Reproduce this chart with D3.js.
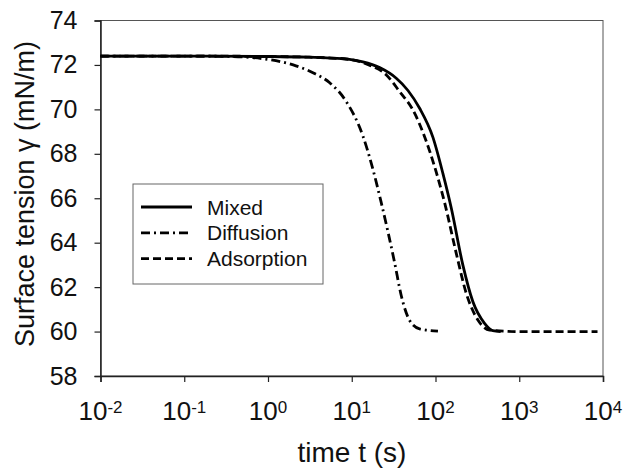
<!DOCTYPE html>
<html>
<head>
<meta charset="utf-8">
<script src="https://cdn.jsdelivr.net/npm/d3@7"></script>
<style>
  body { margin: 0; background: #fff; }
  svg { font-family: "Liberation Sans", Arial, sans-serif; }
</style>
</head>
<body>
<div id="chart"></div>
<script>
// time (s) and surface tension (mN/m)
var mixedT = [0.01, 0.1, 1, 3, 5, 9.4, 13.6, 21.5, 34, 46.9, 64.6, 93, 122.5, 154.5, 212, 279, 385, 484, 600];
var mixedG = [72.4, 72.4, 72.38, 72.35, 72.32, 72.25, 72.14, 71.88, 71.4, 70.85, 70.05, 68.75, 67.12, 65.55, 63.0, 61.35, 60.37, 60.04, 60.0];

var diffT = [0.01, 0.1, 0.35, 1, 2, 3.44, 5.45, 8.6, 13.6, 17.9, 22.5, 32.5, 39.1, 49.1, 64.6, 107];
var diffG = [72.4, 72.4, 72.38, 72.25, 72.0, 71.65, 71.2, 70.35, 68.8, 67.3, 65.8, 63.1, 61.6, 60.5, 60.12, 60.02];

var adsT = [0.01, 0.1, 1, 3, 5, 9.4, 16, 25.9, 37.3, 53.8, 74.1, 97.6, 128.5, 177, 233, 321, 442, 1000, 8600];
var adsG = [72.4, 72.4, 72.38, 72.35, 72.32, 72.25, 72.0, 71.55, 70.8, 69.97, 68.77, 67.42, 65.8, 63.52, 61.72, 60.52, 60.07, 60.0, 60.0];

var seriesNames = ["Mixed", "Diffusion", "Adsorption"];
var yTicks = [58, 60, 62, 64, 66, 68, 70, 72, 74];
var xTickExp = [-2, -1, 0, 1, 2, 3, 4];

var width = 627, height = 469;
var margin = {top: 20.5, right: 24, bottom: 93, left: 100.5};

var svg = d3.select("#chart").append("svg")
    .attr("width", width)
    .attr("height", height);

var x = d3.scaleLog()
    .domain([1e-2, 1e4])
    .range([margin.left, width - margin.right]);

var y = d3.scaleLinear()
    .domain([58, 74])
    .range([height - margin.bottom, margin.top]);

// frame (top and right thin)
svg.append("rect")
    .attr("x", x(1e-2))
    .attr("y", y(74))
    .attr("width", x(1e4) - x(1e-2))
    .attr("height", y(58) - y(74))
    .attr("fill", "none")
    .attr("stroke", "#555")
    .attr("stroke-width", 1);

// y axis
var yAxis = svg.append("g")
    .attr("transform", "translate(" + x(1e-2) + ",0)")
    .call(d3.axisLeft(y).tickValues(yTicks).tickSize(6).tickPadding(17).tickFormat(d3.format("d")));
yAxis.select(".domain").attr("stroke", "#222").attr("stroke-width", 1.5);
yAxis.selectAll(".tick line").attr("stroke", "#222").attr("stroke-width", 1.2);
yAxis.selectAll("text")
    .attr("font-size", 25)
    .attr("fill", "#111")
    .attr("font-family", "Liberation Sans, Arial, sans-serif");

// x axis
var xAxis = svg.append("g")
    .attr("transform", "translate(0," + y(58) + ")")
    .call(d3.axisBottom(x).tickValues(xTickExp.map(function(e) { return Math.pow(10, e); })).tickSize(6).tickFormat(""));
xAxis.select(".domain").attr("stroke", "#222").attr("stroke-width", 1.5);
xAxis.selectAll(".tick line").attr("stroke", "#222").attr("stroke-width", 1.2);

// x tick labels with superscripts
var xLab = svg.append("g").selectAll("text")
    .data(xTickExp)
    .enter()
    .append("text")
    .attr("x", function(d) { return x(Math.pow(10, d)); })
    .attr("y", y(58) + 44)
    .attr("text-anchor", "middle")
    .attr("font-size", 26)
    .attr("fill", "#111");
xLab.append("tspan").text("10");
xLab.append("tspan")
    .attr("font-size", 17)
    .attr("dy", -7)
    .text(function(d) { return d < 0 ? "-" + Math.abs(d) : d; });

// axis titles
svg.append("text")
    .attr("x", 352)
    .attr("y", 462)
    .attr("text-anchor", "middle")
    .attr("font-size", 28)
    .attr("fill", "#111")
    .text("time t (s)");

svg.append("text")
    .attr("transform", "translate(34,194) rotate(-90)")
    .attr("text-anchor", "middle")
    .attr("font-size", 27)
    .attr("fill", "#111")
    .text("Surface tension  γ (mN/m)");

// curves
var line = d3.line()
    .x(function(d) { return x(d[0]); })
    .y(function(d) { return y(d[1]); })
    .curve(d3.curveMonotoneX);

var series = [
  {t: mixedT, g: mixedG, dash: null},
  {t: diffT, g: diffG, dash: "9,4,2,4"},
  {t: adsT, g: adsG, dash: "8,4"}
];

svg.selectAll("path.curve")
    .data(series)
    .enter()
    .append("path")
    .attr("class", "curve")
    .attr("d", function(s) { return line(s.t.map(function(t, i) { return [t, s.g[i]]; })); })
    .attr("fill", "none")
    .attr("stroke", "#000")
    .attr("stroke-width", 2.8)
    .attr("stroke-dasharray", function(s) { return s.dash; });

// legend
var lg = svg.append("g");
lg.append("rect")
    .attr("x", 133).attr("y", 184)
    .attr("width", 190).attr("height", 100)
    .attr("fill", "#fff")
    .attr("stroke", "#666")
    .attr("stroke-width", 1);

var rows = lg.selectAll("g.row")
    .data(seriesNames)
    .enter()
    .append("g")
    .attr("class", "row")
    .attr("transform", function(d, i) { return "translate(0," + (207 + i * 25.8) + ")"; });

rows.append("line")
    .attr("x1", 141).attr("x2", 192)
    .attr("y1", 0).attr("y2", 0)
    .attr("stroke", "#000")
    .attr("stroke-width", 2.8)
    .attr("stroke-dasharray", function(d, i) { return series[i].dash; });

rows.append("text")
    .attr("x", 207)
    .attr("y", 7.5)
    .attr("font-size", 21)
    .attr("fill", "#111")
    .text(function(d) { return d; });
</script>
</body>
</html>
